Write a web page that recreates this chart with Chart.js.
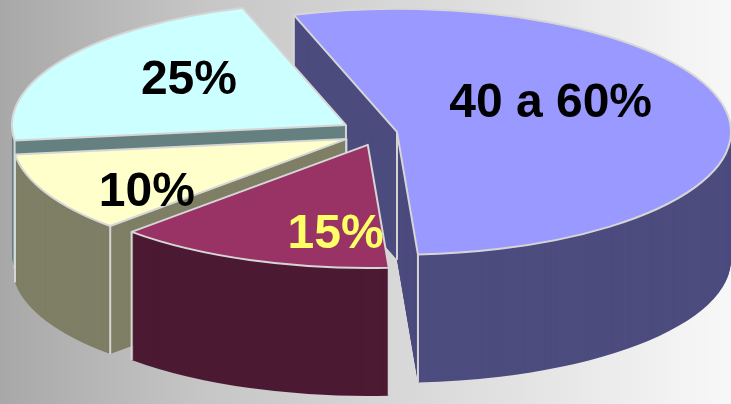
<!DOCTYPE html>
<html><head><meta charset="utf-8">
<script src="https://cdn.jsdelivr.net/npm/chart.js@4/dist/chart.umd.min.js"></script>
<style>html,body{margin:0;padding:0;background:#fff;overflow:hidden}canvas{display:block}</style>
</head><body>
<canvas id="c" width="731" height="404"></canvas>
<script>
// ---- data ----
const categories = ['40 a 60%', '15%', '10%', '25%'];
const values = [54, 13.5, 10.5, 22];
// ---- style ----
const topColors = ['#9999ff', '#993366', '#ffffcc', '#ccffff'];
const sideColors = ['#4c4c7f', '#4c1a33', '#7f7f66', '#668080'];
const labelColors = ['#000000', '#ffff66', '#000000', '#000000'];
const explode = [6, 12, 13, 14];
const labelRadius = [0.52, 0.72, 0.73, 0.6];
const labelTurn = [-17, -13, -9, 6];
const drawOrder = [0, 3, 2, 1];
const DEPTH = 128;
const EDGE = '#d6d6d6';

function pieGeometry(chart) {
  const area = chart.chartArea;
  const RX = (area.right - area.left) / 2, RY = (area.bottom - area.top) / 2;
  const arcs = chart.getDatasetMeta(0).data;
  const geo = arcs.map(a => {
    const p = a.getProps(['x', 'y', 'startAngle', 'endAngle', 'outerRadius']);
    const frac = (a.options.offset || 0) / p.outerRadius;
    const mid = (p.startAngle + p.endAngle) / 2;
    return {cx: p.x + Math.cos(mid) * frac * RX, cy: p.y + Math.sin(mid) * frac * RY,
            a0: p.startAngle, a1: p.endAngle, mid};
  });
  return {RX, RY, geo};
}

const pie3d = {
  id: 'pie3d',
  beforeDraw(chart) {
    const {ctx, width, height} = chart;
    const g = ctx.createLinearGradient(0, 0, width, 0);
    g.addColorStop(0, '#a8a8a8');
    g.addColorStop(0.28, '#c6c6c6');
    g.addColorStop(0.66, '#dfdfdf');
    g.addColorStop(1, '#f8f8f8');
    ctx.save();
    ctx.fillStyle = g;
    ctx.fillRect(0, 0, width, height);
    ctx.restore();
  },
  beforeDatasetsDraw(chart) {
    const ctx = chart.ctx;
    const {RX, RY, geo} = pieGeometry(chart);
    const sector = (g, dy) => {
      ctx.beginPath();
      ctx.moveTo(g.cx, g.cy + dy);
      ctx.ellipse(g.cx, g.cy + dy, RX, RY, 0, g.a0, g.a1);
      ctx.closePath();
    };
    ctx.save();
    drawOrder.forEach(i => {
      const g = geo[i];
      ctx.fillStyle = sideColors[i];
      for (let d = DEPTH; d >= 1; d--) { sector(g, d); ctx.fill(); }
      ctx.strokeStyle = EDGE; ctx.lineWidth = 2;
      const pts = [[g.cx, g.cy],
        [g.cx + RX * Math.cos(g.a0), g.cy + RY * Math.sin(g.a0)],
        [g.cx + RX * Math.cos(g.a1), g.cy + RY * Math.sin(g.a1)]];
      sector(g, 0);
      const visible = pts.filter(([x, y]) => !ctx.isPointInPath(x, y + 4));
      visible.forEach(([x, y]) => { ctx.beginPath(); ctx.moveTo(x, y); ctx.lineTo(x, y + DEPTH); ctx.stroke(); });
      sector(g, 0);
      ctx.fillStyle = topColors[i];
      ctx.fill();
      ctx.lineJoin = 'round';
      ctx.stroke();
    });
    ctx.restore();
    return false;
  },
  afterDraw(chart) {
    const ctx = chart.ctx;
    const {RX, RY, geo} = pieGeometry(chart);
    ctx.save();
    ctx.font = 'bold 48px "Liberation Sans", Arial, sans-serif';
    ctx.textAlign = 'center';
    ctx.textBaseline = 'middle';
    geo.forEach((g, i) => {
      const ang = g.mid + labelTurn[i] * Math.PI / 180;
      const x = g.cx + Math.cos(ang) * labelRadius[i] * RX;
      const y = g.cy + Math.sin(ang) * labelRadius[i] * RY;
      ctx.fillStyle = labelColors[i];
      ctx.fillText(chart.data.labels[i], x, y + 2);
    });
    ctx.restore();
  }
};

new Chart(document.getElementById('c'), {
  type: 'pie',
  data: {
    labels: categories,
    datasets: [{ data: values, backgroundColor: topColors, borderWidth: 0, offset: explode, hoverOffset: 0 }]
  },
  options: {
    responsive: false,
    animation: false,
    devicePixelRatio: 1,
    rotation: -18,
    events: [],
    layout: { padding: { left: 46, right: 17, top: 10, bottom: 148 } },
    plugins: { legend: { display: false }, tooltip: { enabled: false } }
  },
  plugins: [pie3d]
});
</script>
</body></html>
